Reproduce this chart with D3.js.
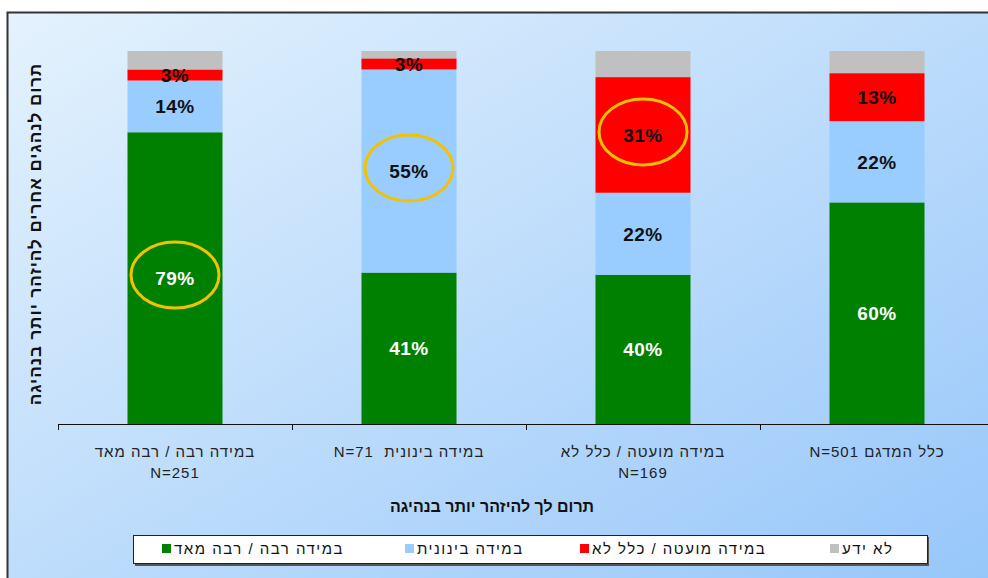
<!DOCTYPE html>
<html>
<head>
<meta charset="utf-8">
<script src="https://cdn.jsdelivr.net/npm/d3@7/dist/d3.min.js"></script>
<style>
  body { margin: 0; background: #fff; }
  svg { display: block; font-family: 'Liberation Sans', Arial, sans-serif; }
</style>
</head>
<body>
<script>
// data
var categories = ['c1', 'c2', 'c3', 'c4'];
var categoryLines = [
  ['במידה רבה / רבה מאד', 'N=251'],
  ['במידה בינונית  N=71'],
  ['במידה מועטה / כלל לא', 'N=169'],
  ['כלל המדגם N=501']
];
var seriesNames = ['במידה רבה / רבה מאד', 'במידה בינונית', 'במידה מועטה / כלל לא', 'לא ידע'];
var seriesKeys = ['high', 'mid', 'low', 'dk'];
var seriesColors = ['#008000', '#99ccff', '#ff0000', '#c0c0c0'];
var highValues = [79, 41, 40, 60];
var midValues = [14, 55, 22, 22];
var lowValues = [3, 3, 31, 13];
var dkValues = [5, 2, 7, 6];
// which segment is circled in each bar (series index, -1 = none)
var circled = [0, 1, 2, -1];
var yTitle = 'תרום לנהגים אחרים להיזהר יותר בנהיגה';
var xTitle = 'תרום לך להיזהר יותר בנהיגה';

var rows = categories.map(function ( c, i ) {
  return { cat: c, high: highValues[i], mid: midValues[i], low: lowValues[i], dk: dkValues[i] };
});

// ----------------------------------------------------------------------------
var width = 988, height = 578;
var svg = d3.select('body').append('svg')
  .attr('width', width)
  .attr('height', height);

var defs = svg.append('defs');
var grad = defs.append('linearGradient')
  .attr('id', 'bg')
  .attr('x1', 0).attr('y1', 0)
  .attr('x2', 1).attr('y2', 1);
grad.append('stop').attr('offset', '0%').attr('stop-color', '#e4f2fd');
grad.append('stop').attr('offset', '100%').attr('stop-color', '#94c5fa');

// chart frame (runs off the right and bottom edges)
svg.append('rect')
  .attr('x', 7.5).attr('y', 12.5)
  .attr('width', 1000).attr('height', 600)
  .attr('fill', 'url(#bg)')
  .attr('stroke', '#333')
  .attr('stroke-width', 2);

var x = d3.scaleBand()
  .domain(categories)
  .range([58, 994])
  .paddingInner(0.594)
  .paddingOuter(0.297);

// 100% stacked: each bar is scaled to its own total
var y = d3.scaleLinear()
  .domain([0, 1])
  .range([424, 51]);

var stack = d3.stack().keys(seriesKeys).offset(d3.stackOffsetExpand);
var stacked = stack(rows);

// bars
var layers = svg.selectAll('g.layer')
  .data(stacked)
  .enter()
  .append('g')
  .attr('class', 'layer')
  .attr('fill', function ( d, i ) { return seriesColors[i]; });

layers.selectAll('rect')
  .data(function ( d ) { return d; })
  .enter()
  .append('rect')
  .attr('x', function ( d ) { return x(d.data.cat); })
  .attr('y', function ( d ) { return y(d[1]); })
  .attr('width', x.bandwidth())
  .attr('height', function ( d ) { return y(d[0]) - y(d[1]); });

// value labels (not for "don't know")
stacked.slice(0, 3).forEach(function ( layer, si ) {
  svg.append('g').selectAll('text')
    .data(layer)
    .enter()
    .append('text')
    .attr('x', function ( d ) { return x(d.data.cat) + x.bandwidth() / 2; })
    .attr('y', function ( d ) { return (y(d[0]) + y(d[1])) / 2; })
    .attr('dy', '0.36em')
    .attr('text-anchor', 'middle')
    .style('font-size', '19px')
    .style('font-weight', 'bold')
    .style('letter-spacing', '0.5px')
    .style('fill', si === 0 ? '#fff' : '#111')
    .text(function ( d ) { return d.data[layer.key] + '%'; });
});

// yellow circles round the highlighted values
circled.forEach(function ( si, ci ) {
  if ( si < 0 ) return;
  var d = stacked[si][ci];
  svg.append('ellipse')
    .attr('cx', x(d.data.cat) + x.bandwidth() / 2)
    .attr('cy', (y(d[0]) + y(d[1])) / 2 - 3)
    .attr('rx', 44)
    .attr('ry', 33)
    .attr('fill', 'none')
    .attr('stroke', '#f2c200')
    .attr('stroke-width', 3);
});

// x axis: line with ticks between categories
var step = x.step();
var x0 = x.range()[0];
svg.append('line')
  .attr('x1', x0).attr('x2', x.range()[1])
  .attr('y1', 424.5).attr('y2', 424.5)
  .attr('stroke', '#111');
svg.selectAll('line.tick')
  .data(d3.range(categories.length + 1))
  .enter()
  .append('line')
  .attr('class', 'tick')
  .attr('x1', function ( i ) { return x0 + i * step + 0.5; })
  .attr('x2', function ( i ) { return x0 + i * step + 0.5; })
  .attr('y1', 424).attr('y2', 430)
  .attr('stroke', '#111');

// category labels
categories.forEach(function ( c, i ) {
  var t = svg.append('text')
    .attr('x', x(c) + x.bandwidth() / 2)
    .attr('y', 457)
    .attr('text-anchor', 'middle')
    .attr('direction', 'rtl')
    .style('font-size', '15px')
    .style('letter-spacing', '1px')
    .style('white-space', 'pre')
    .style('fill', '#222');
  categoryLines[i].forEach(function ( line, li ) {
    t.append('tspan')
      .attr('x', x(c) + x.bandwidth() / 2)
      .attr('dy', li === 0 ? 0 : 21)
      .text(line);
  });
});

// axis titles
svg.append('text')
  .attr('x', 492)
  .attr('y', 512)
  .attr('text-anchor', 'middle')
  .attr('direction', 'rtl')
  .style('font-size', '16px')
  .style('font-weight', 'bold')
  .style('fill', '#111')
  .text(xTitle);

svg.append('text')
  .attr('transform', 'translate(41,234) rotate(-90)')
  .attr('text-anchor', 'middle')
  .attr('direction', 'rtl')
  .style('font-size', '17px')
  .style('font-weight', 'bold')
  .style('letter-spacing', '1px')
  .style('fill', '#111')
  .text(yTitle);

// legend
var legend = svg.append('g');
legend.append('rect')
  .attr('x', 135).attr('y', 537)
  .attr('width', 794).attr('height', 29)
  .attr('fill', '#555');
legend.append('rect')
  .attr('x', 133.5).attr('y', 535.5)
  .attr('width', 794).attr('height', 28)
  .attr('fill', '#fff')
  .attr('stroke', '#222');

var legendX = d3.scaleOrdinal()
  .domain(seriesKeys)
  .range([162, 405, 580, 830]);

seriesNames.forEach(function ( name, i ) {
  var lx = legendX(seriesKeys[i]);
  legend.append('rect')
    .attr('x', lx).attr('y', 544)
    .attr('width', 9).attr('height', 9)
    .attr('fill', seriesColors[i]);
  legend.append('text')
    .attr('x', lx + 12)
    .attr('y', 549)
    .attr('dy', '0.35em')
    .style('font-size', '15px')
    .style('letter-spacing', '1.5px')
    .style('fill', '#111')
    .text(name);
});
</script>
</body>
</html>
